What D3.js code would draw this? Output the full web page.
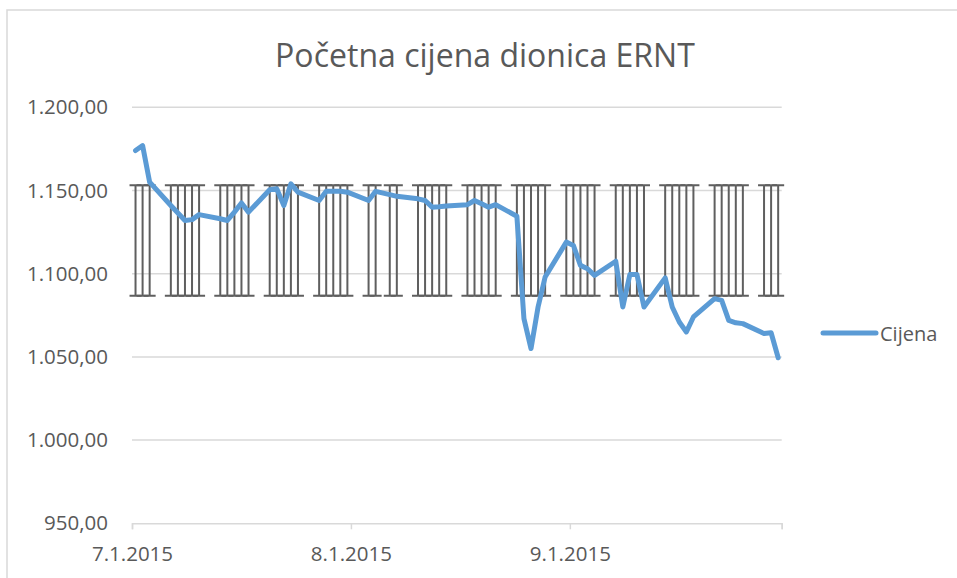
<!DOCTYPE html>
<html><head><meta charset="utf-8">
<script src="https://cdn.jsdelivr.net/npm/d3@7"></script>
<style>html,body{margin:0;padding:0;background:#fff;}svg{display:block;}</style>
</head><body>
<svg id="chart" width="957" height="578"></svg>
<script>
const title = "Početna cijena dionica ERNT";
const seriesName = "Cijena";
const tradingDays = [
 "2015-07-01","2015-07-02","2015-07-03",
 "2015-07-06","2015-07-07","2015-07-08","2015-07-09","2015-07-10",
 "2015-07-13","2015-07-14","2015-07-15","2015-07-16","2015-07-17",
 "2015-07-20","2015-07-21","2015-07-22","2015-07-23","2015-07-24",
 "2015-07-27","2015-07-28","2015-07-29","2015-07-30","2015-07-31",
 "2015-08-03","2015-08-04","2015-08-06","2015-08-07",
 "2015-08-10","2015-08-11","2015-08-12","2015-08-13","2015-08-14",
 "2015-08-17","2015-08-18","2015-08-19","2015-08-20","2015-08-21",
 "2015-08-24","2015-08-25","2015-08-26","2015-08-27","2015-08-28",
 "2015-08-31","2015-09-01","2015-09-02","2015-09-03","2015-09-04",
 "2015-09-07","2015-09-08","2015-09-09","2015-09-10","2015-09-11",
 "2015-09-14","2015-09-15","2015-09-16","2015-09-17","2015-09-18",
 "2015-09-21","2015-09-22","2015-09-23","2015-09-24","2015-09-25",
 "2015-09-28","2015-09-29","2015-09-30"
];
const prices = [
 1174,1177,1155,
 1141,1136.5,1132,1132.5,1135.5,
 1133,1132,1137,1142.5,1137,
 1150.5,1151,1141,1154,1149,
 1144,1149.5,1149.5,1149.5,1149,
 1144,1149.5,1147.5,1146.5,
 1145,1144,1140,1140.3,1140.7,
 1141.5,1144,1142,1140,1141.5,
 1134.5,1073,1055,1080,1098,
 1119,1117,1105,1103,1099,
 1107.5,1080,1099.5,1099.5,1080,
 1097.5,1080,1071,1065,1074,
 1085,1084,1072,1070.5,1070,
 1064,1064.5,1049.5
];
const errorLow = 1086.8;
const errorHigh = 1153.2;
const yTicks = [950,1000,1050,1100,1150,1200];
const xTickDates = ["2015-07-01","2015-08-01","2015-09-01","2015-10-01"];
const xTickLabels = ["7.1.2015","8.1.2015","9.1.2015",""];
const xDomain = ["2015-07-01","2015-10-01"];

const svg = d3.select("#chart");
const FONT = "'Open Sans', 'Noto Sans', sans-serif";
const textColor = "#595959";
const parse = d3.utcParse("%Y-%m-%d");
const DAY = 864e5;

const pL = 132, pR = 781.7, pT = 107.3, pB = 523.3;
const x = d3.scaleUtc().domain(xDomain.map(parse)).range([pL, pR]);
const y = d3.scaleLinear().domain([950,1200]).range([pB, pT]);
const hr = d3.formatLocale({decimal: ",", thousands: ".", grouping: [3], currency: ["", ""]});
const fmt = hr.format(",.2f");

const data = tradingDays.map((d,i) => ({date: new Date(parse(d).getTime() + DAY/2), v: prices[i]}));

// chart border (top + left)
svg.append("path").attr("d", `M7,578 V10 H957`).attr("fill","none")
  .attr("stroke","#d9d9d9").attr("stroke-width",1.5);

// title
const t = svg.append("text").attr("x", 485).attr("y", 66.5).attr("text-anchor","middle")
  .attr("font-family", FONT).attr("font-size", 30).attr("fill", textColor).text(title);
const tw = t.node().getComputedTextLength();
t.attr("font-size", 30 * 420 / tw);

// gridlines
svg.append("g").selectAll("line").data(yTicks.slice(1)).join("line")
  .attr("x1", pL).attr("x2", pR).attr("y1", d => y(d)).attr("y2", d => y(d))
  .attr("stroke", "#d9d9d9").attr("stroke-width", 1.5);

// y axis labels
const yAxis = svg.append("g").attr("transform", `translate(${pL},0)`)
  .call(d3.axisLeft(y).tickValues(yTicks).tickFormat(fmt).tickSize(0).tickPadding(24));
yAxis.select(".domain").remove();
yAxis.selectAll("text").attr("font-family", FONT).attr("font-size", 20.5).attr("fill", textColor);

// x axis
const xAxis = svg.append("g").attr("transform", `translate(0,${pB})`)
  .call(d3.axisBottom(x).tickValues(xTickDates.map(parse)).tickFormat((d,i) => xTickLabels[i]).tickSizeOuter(0).tickSize(6).tickPadding(17));
xAxis.select(".domain").attr("stroke", "#d9d9d9").attr("stroke-width", 1.5);
xAxis.selectAll(".tick line").attr("stroke", "#d9d9d9").attr("stroke-width", 1.5);
xAxis.selectAll("text").attr("font-family", FONT).attr("font-size", 20.5).attr("fill", textColor);

// error bars
const eb = svg.append("g").attr("stroke", "#5f5f5f").attr("stroke-width", 2).attr("fill","none");
eb.selectAll("path").data(data).join("path")
  .attr("d", d => {
    const cx = x(d.date), y1 = y(errorHigh), y2 = y(errorLow);
    return `M${cx},${y1}V${y2}M${cx-6},${y1}H${cx+6}M${cx-6},${y2}H${cx+6}`;
  });

// line
svg.append("path").datum(data)
  .attr("d", d3.line().x(d => x(d.date)).y(d => y(d.v)))
  .attr("fill","none").attr("stroke","#5b9bd5").attr("stroke-width",5)
  .attr("stroke-linejoin","round").attr("stroke-linecap","round");

// legend
svg.append("line").attr("x1", 823).attr("x2", 876).attr("y1", 333).attr("y2", 333)
  .attr("stroke","#5b9bd5").attr("stroke-width",5).attr("stroke-linecap","round");
svg.append("text").attr("x", 880).attr("y", 340.5).attr("font-family", FONT)
  .attr("font-size", 20).attr("fill", textColor).text(seriesName);
</script>
</body></html>
